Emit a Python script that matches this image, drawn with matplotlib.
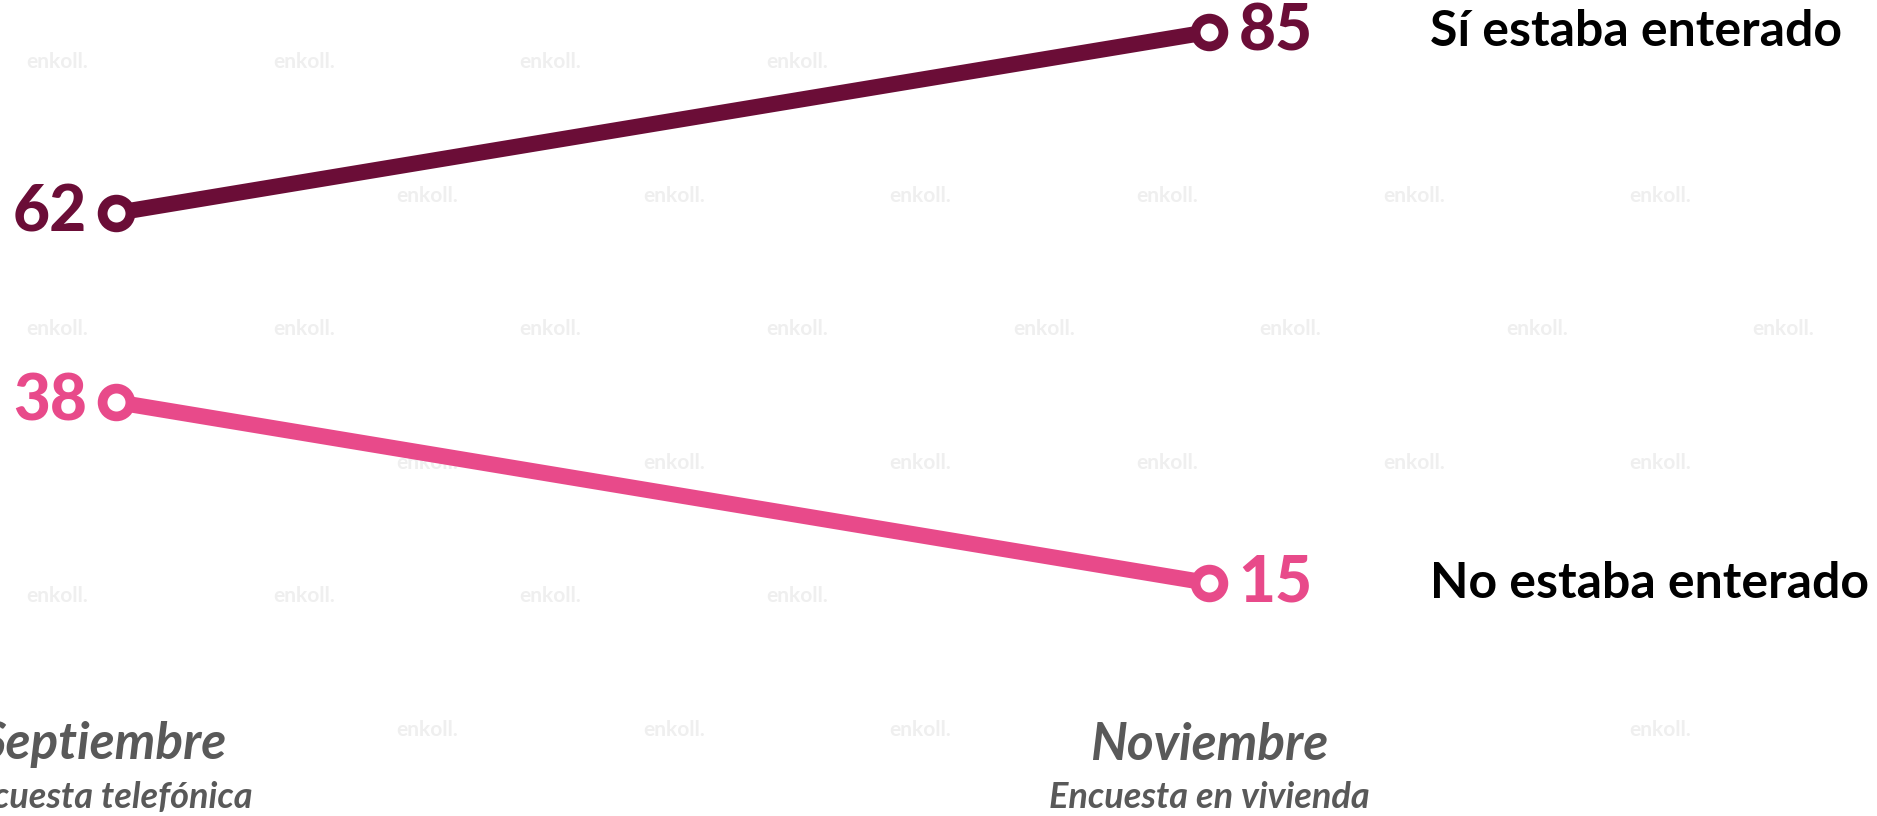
import matplotlib
matplotlib.use("Agg")
import matplotlib.pyplot as plt
import matplotlib.transforms as mtransforms

# ---- data ----
periods = ["Septiembre", "Noviembre"]
survey_types = ["Encuesta telefónica", "Encuesta en vivienda"]
series_names = ["Sí estaba enterado", "No estaba enterado"]
si_values = [62, 85]
no_values = [38, 15]

colors = ["#6B0D37", "#E84A8A"]
FONT = "Lato"

W, H, DPI = 1877, 816, 100
fig = plt.figure(figsize=(W / DPI, H / DPI), dpi=DPI)
ax = fig.add_axes([0, 0, 1, 1])
ax.set_xlim(-0.1061, 1.611)
ax.set_ylim(-14.57, 89.05)
ax.axis("off")

# ---- faint watermark (behind everything, skipping spots occupied by labels) ----
wm_color = "#EFEFEF"
busy = [(0, 150, 150, 260), (0, 360, 150, 450), (1180, 0, 1877, 90),
        (1180, 540, 1877, 640), (1000, 0, 1180, 90), (1000, 540, 1180, 640),
        (0, 700, 300, 816), (1020, 700, 1400, 816)]
for r in range(7):
    ypx = (52 + r * 111.5) * 1.197
    off = 0 if r % 2 == 0 else 103
    for c in range(-1, 10):
        xpx = (48 + off + c * 206) * 1.197
        if xpx < 50 or xpx > W - 50 or ypx > H - 20:
            continue
        if any(x0 - 50 < xpx < x1 + 50 and y0 - 20 < ypx < y1 + 20
               for x0, y0, x1, y1 in busy):
            continue
        ax.text(xpx / W, 1 - ypx / H, "enkoll.", transform=ax.transAxes,
                color=wm_color, fontsize=15, fontweight="bold", family=FONT,
                ha="center", va="center", zorder=0)

x = [0, 1]
for vals, col, name in [(si_values, colors[0], series_names[0]),
                        (no_values, colors[1], series_names[1])]:
    ax.plot(x, vals, color=col, lw=11.5, solid_capstyle="butt", zorder=3)
    ax.plot(x, vals, ls="none", marker="o", ms=20, mfc="white", mec=col,
            mew=7, zorder=4)
    ax.annotate(str(vals[0]), (x[0], vals[0]), xytext=(-21, 0),
                textcoords="offset points", ha="right", va="center",
                fontsize=46, fontweight="black", color=col, family=FONT)
    ax.annotate(str(vals[1]), (x[1], vals[1]), xytext=(21, 0),
                textcoords="offset points", ha="left", va="center",
                fontsize=46, fontweight="black", color=col, family=FONT)
    ax.annotate(name, (x[1], vals[1]), xytext=(159, 0),
                textcoords="offset points", ha="left", va="center",
                fontsize=36, fontweight="bold", color="black", family=FONT)

trans = mtransforms.blended_transform_factory(ax.transData, ax.transAxes)
for i, (xi, p, s) in enumerate(zip(x, periods, survey_types)):
    shift = -0.012 if i == 0 else 0.0
    ax.text(xi + shift, 1 - 745 / H, p, transform=trans, ha="center", va="center",
            fontsize=37, fontweight="bold", style="italic", color="#595959",
            family=FONT)
    ax.text(xi + shift, 1 - 798 / H, s, transform=trans, ha="center", va="center",
            fontsize=26, fontweight="bold", style="italic", color="#595959",
            family=FONT)

fig.savefig("out.png", dpi=DPI, facecolor="white")
